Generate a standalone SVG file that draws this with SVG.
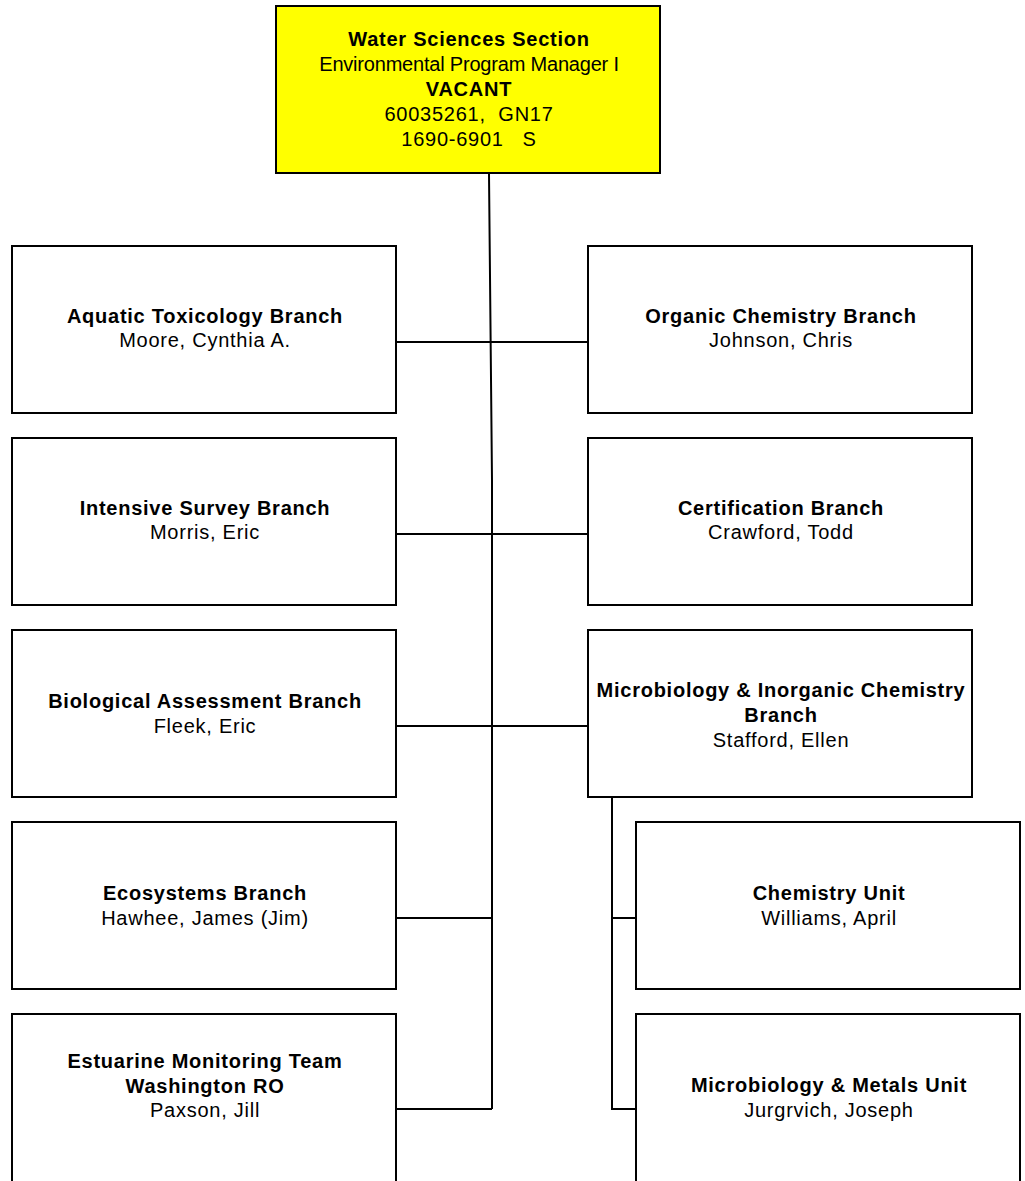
<svg xmlns="http://www.w3.org/2000/svg" width="1025" height="1181" viewBox="0 0 1025 1181">
<style>
.box{fill:#fff;stroke:#000;stroke-width:2}
.top{fill:#ffff00;stroke:#000;stroke-width:2}
text{font-family:"Liberation Sans",Arial,sans-serif;font-size:20px;text-anchor:middle;fill:#000;letter-spacing:0.75px}
.b{font-weight:bold;letter-spacing:0.75px}
.tight{letter-spacing:-0.2px}
.conn{fill:none;stroke:#000;stroke-width:2}
</style>
<rect width="1025" height="1181" fill="#fff"/>
<g id="connectors">
<path class="conn" d="M489,174 L492,480 L492,1109"/>
<path class="conn" d="M396,342 H588 M396,534 H588 M396,726 H588 M396,918 H492 M396,1109 H492"/>
<path class="conn" d="M612,798 V1110 M612,918 H636 M612,1109 H636"/>
</g>
<g id="n-top">
<rect class="top" x="276" y="6" width="384" height="167"/>
<text x="469" y="46" class="b">Water Sciences Section</text>
<text x="469" y="71" class="tight">Environmental Program Manager I</text>
<text x="469" y="96" class="b">VACANT</text>
<text x="469" y="121" xml:space="preserve">60035261,  GN17</text>
<text x="469" y="146" xml:space="preserve">1690-6901   S</text>
</g>
<g id="n-aquatic">
<rect class="box" x="12" y="246" width="384" height="167"/>
<text x="205" y="323" class="b">Aquatic Toxicology Branch</text>
<text x="205" y="347">Moore, Cynthia A.</text>
</g>
<g id="n-organic">
<rect class="box" x="588" y="246" width="384" height="167"/>
<text x="781" y="323" class="b">Organic Chemistry Branch</text>
<text x="781" y="347">Johnson, Chris</text>
</g>
<g id="n-intensive">
<rect class="box" x="12" y="438" width="384" height="167"/>
<text x="205" y="515" class="b">Intensive Survey Branch</text>
<text x="205" y="539">Morris, Eric</text>
</g>
<g id="n-cert">
<rect class="box" x="588" y="438" width="384" height="167"/>
<text x="781" y="515" class="b">Certification Branch</text>
<text x="781" y="539">Crawford, Todd</text>
</g>
<g id="n-bio">
<rect class="box" x="12" y="630" width="384" height="167"/>
<text x="205" y="708" class="b">Biological Assessment Branch</text>
<text x="205" y="733">Fleek, Eric</text>
</g>
<g id="n-micro">
<rect class="box" x="588" y="630" width="384" height="167"/>
<text x="781" y="697" class="b">Microbiology &amp; Inorganic Chemistry</text>
<text x="781" y="722" class="b">Branch</text>
<text x="781" y="747">Stafford, Ellen</text>
</g>
<g id="n-eco">
<rect class="box" x="12" y="822" width="384" height="167"/>
<text x="205" y="900" class="b">Ecosystems Branch</text>
<text x="205" y="925">Hawhee, James (Jim)</text>
</g>
<g id="n-chem">
<rect class="box" x="636" y="822" width="384" height="167"/>
<text x="829" y="900" class="b">Chemistry Unit</text>
<text x="829" y="925">Williams, April</text>
</g>
<g id="n-estuarine">
<rect class="box" x="12" y="1014" width="384" height="180"/>
<text x="205" y="1068" class="b">Estuarine Monitoring Team</text>
<text x="205" y="1093" class="b">Washington RO</text>
<text x="205" y="1117">Paxson, Jill</text>
</g>
<g id="n-metals">
<rect class="box" x="636" y="1014" width="384" height="180"/>
<text x="829" y="1092" class="b">Microbiology &amp; Metals Unit</text>
<text x="829" y="1117">Jurgrvich, Joseph</text>
</g>
</svg>
